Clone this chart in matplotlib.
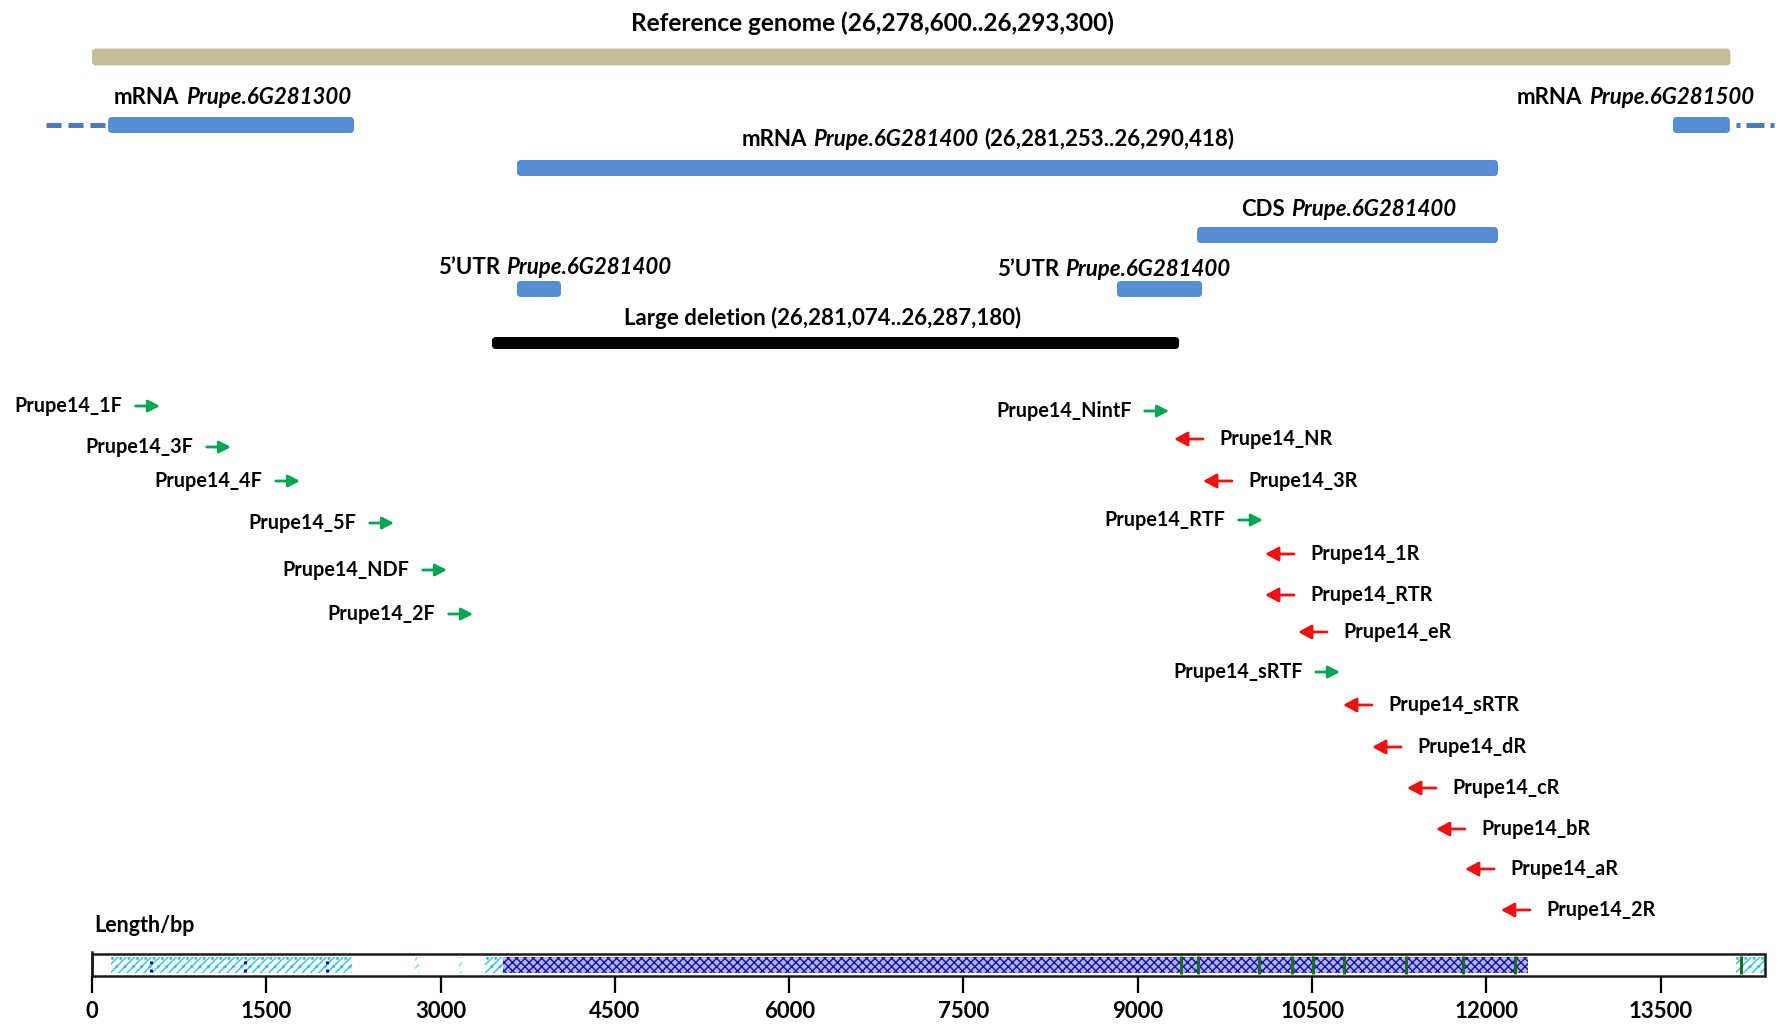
import matplotlib.pyplot as plt
from matplotlib.patches import FancyBboxPatch, Rectangle
from matplotlib.offsetbox import TextArea, HPacker, AnnotationBbox

plt.rcParams['font.family'] = ['Lato', 'DejaVu Sans']
plt.rcParams['hatch.linewidth'] = 1.0

# x is in bp along the Length/bp ruler, y is the row from the top of the figure
x_min, x_max = -792, 14527

# bars: reference genome, mRNAs, CDS, 5'UTRs and the large deletion
bar_start = [0, 138, 13606, 3657, 9510, 3657, 8821, 3442]
bar_end = [14100, 2255, 14096, 12100, 12100, 4036, 9553, 9355]
bar_row = [57, 125, 125, 168, 235, 289, 289, 343]
bar_kind = ['genome', 'mrna', 'mrna', 'mrna', 'mrna', 'mrna', 'mrna', 'deletion']

# neighbouring genes continue outside the window
dash_left = [-396, 138]
dash_right = [14150, 14527]
dash_row = 125

# labels: pieces of (text, italic), anchor x, row, alignment, size
label_parts = [
    [('Reference genome (26,278,600..26,293,300)', False)],
    [('mRNA', False), ('Prupe.6G281300', True)],
    [('mRNA', False), ('Prupe.6G281500', True)],
    [('mRNA', False), ('Prupe.6G281400', True), ('(26,281,253..26,290,418)', False)],
    [('CDS', False), ('Prupe.6G281400', True)],
    [('5\u2019UTR', False), ('Prupe.6G281400', True)],
    [('5\u2019UTR', False), ('Prupe.6G281400', True)],
    [('Large deletion (26,281,074..26,287,180)', False)],
]
label_x = [6713, 189, 14303, 7711, 10818, 3984, 8795, 6291]
label_row = [23, 97, 97, 139, 210, 268, 270, 318]
label_align = [0.5, 0, 1, 0.5, 0.5, 0.5, 0.5, 0.5]
label_size = [17.6, 16, 16, 16, 16, 16, 16, 16]

# primers (arrow head position)
fwd_names = ['Prupe14_1F', 'Prupe14_3F', 'Prupe14_4F', 'Prupe14_5F', 'Prupe14_NDF',
             'Prupe14_2F', 'Prupe14_NintF', 'Prupe14_RTF', 'Prupe14_sRTF']
fwd_pos = [585, 1196, 1790, 2599, 3055, 3279, 9269, 10077, 10740]
fwd_row = [406, 447, 481, 523, 570, 614, 411, 520, 672]

rev_names = ['Prupe14_NR', 'Prupe14_3R', 'Prupe14_1R', 'Prupe14_RTR', 'Prupe14_eR',
             'Prupe14_sRTR', 'Prupe14_dR', 'Prupe14_cR', 'Prupe14_bR', 'Prupe14_aR',
             'Prupe14_2R']
rev_pos = [9312, 9561, 10095, 10095, 10379, 10766, 11016, 11317, 11566, 11816, 12125]
rev_row = [439, 481, 554, 595, 632, 705, 747, 788, 829, 869, 910]

# ruler
ruler_len = 14398
ruler_ticks = [0, 1500, 3000, 4500, 6000, 7500, 9000, 10500, 12000, 13500]
light_start = [164, 3382, 14148]
light_end = [2238, 3537, 14398]
dark_start = [3537]
dark_end = [12358]
faint_pos = [2780, 3158]
dot_pos = [508, 1317, 2022]
green_pos = [9372, 9518, 10043, 10327, 10508, 10775, 11308, 11799, 12246, 14191]


def add_label(ax, parts, x, y, align, size):
    boxes = []
    for txt, italic in parts:
        boxes.append(TextArea(txt, textprops=dict(fontsize=size, fontweight='bold',
                                                  fontstyle='italic' if italic else 'normal')))
    pack = HPacker(children=boxes, align='baseline', pad=0, sep=4.5)
    ab = AnnotationBbox(pack, (x, y), xycoords='data', frameon=False,
                        box_alignment=(align, 0.5), pad=0)
    ax.add_artist(ab)


def main():
    fig = plt.figure(figsize=(17.8, 10.24), dpi=100)
    ax = fig.add_axes([0, 0, 1, 1])
    ax.set_xlim(x_min, x_max)
    ax.set_ylim(1024, 0)
    ax.axis('off')
    bp_per_px = (x_max - x_min) / 1780.0

    colours = {'genome': '#C4BD97', 'mrna': '#558ED5', 'deletion': '#000000'}
    heights = {'genome': 17, 'mrna': 16, 'deletion': 12}

    for s, e, r, k in zip(bar_start, bar_end, bar_row, bar_kind):
        h = heights[k]
        box = FancyBboxPatch((s, r - h / 2), e - s, h,
                             boxstyle='round,pad=0,rounding_size=%f' % (4 * bp_per_px),
                             mutation_aspect=1 / bp_per_px,
                             facecolor=colours[k], edgecolor='none')
        ax.add_patch(box)

    ax.plot(dash_left, [dash_row, dash_row], color='#4A7BB7', lw=3.6,
            dashes=[3, 1.4], solid_capstyle='butt', zorder=0)
    ax.plot(dash_right, [dash_row, dash_row], color='#4A7BB7', lw=3.6,
            dashes=[0.8, 1.2, 3.6, 1.2], zorder=0)

    for parts, x, y, a, fs in zip(label_parts, label_x, label_row, label_align, label_size):
        add_label(ax, parts, x, y, a, fs)

    green = '#00A651'
    red = '#EE1111'
    for name, pos, row in zip(fwd_names, fwd_pos, fwd_row):
        ax.annotate('', xy=(pos, row), xytext=(-17.5, 0), textcoords='offset points',
                    arrowprops=dict(arrowstyle='-|>,head_length=0.7,head_width=0.36',
                                    color=green, lw=2.0, shrinkA=0, shrinkB=0,
                                    mutation_scale=10))
        ax.annotate(name, xy=(pos, row), xytext=(-27, 0), textcoords='offset points',
                    ha='right', va='center', fontsize=14.2, fontweight='bold')

    for name, pos, row in zip(rev_names, rev_pos, rev_row):
        ax.annotate('', xy=(pos, row), xytext=(20.9, 0), textcoords='offset points',
                    arrowprops=dict(arrowstyle='-|>,head_length=0.8,head_width=0.43',
                                    color=red, lw=2.0, shrinkA=0, shrinkB=0,
                                    mutation_scale=10))
        ax.annotate(name, xy=(pos, row), xytext=(33, 0), textcoords='offset points',
                    ha='left', va='center', fontsize=14.2, fontweight='bold')

    ax.text(17, 926, 'Length/bp', ha='left', va='center', fontsize=15.5, fontweight='bold')

    # ruler bar
    rax = fig.add_axes([0, 1 - 976 / 1024.0, 1, 22 / 1024.0])
    rax.set_xlim(x_min, x_max)
    rax.set_ylim(0, 1)
    for sp in rax.spines.values():
        sp.set_visible(False)
    rax.patch.set_alpha(0)
    rax.set_yticks([])
    rax.set_xticks(ruler_ticks)
    rax.set_xticklabels([str(t) for t in ruler_ticks])
    rax.tick_params(axis='x', length=12, width=1.6, pad=6, labelsize=16)
    for lbl in rax.get_xticklabels():
        lbl.set_fontweight('bold')

    for s, e in zip(light_start, light_end):
        rax.add_patch(Rectangle((s, 0.14), e - s, 0.72, facecolor='#f2fbfd',
                                edgecolor='#3CC0D4', hatch='////..', lw=0))
    for x in faint_pos:
        rax.add_patch(Rectangle((x, 0.14), 30, 0.72, facecolor='white',
                                edgecolor='#7fd6e2', hatch='////', lw=0))
    for s, e in zip(dark_start, dark_end):
        rax.add_patch(Rectangle((s, 0.14), e - s, 0.72, facecolor='#b4b4f0',
                                edgecolor='#1212B0', hatch='xxxx', lw=0))
    rax.vlines(dot_pos, 0.2, 0.8, color='#1010C0', lw=2.2, linestyles=':')
    rax.vlines(green_pos, 0.08, 0.92, color='#1B6E1B', lw=2.2)
    rax.add_patch(Rectangle((0, 0), ruler_len, 1, fill=False, edgecolor='#1a1a1a',
                            lw=1.8, clip_on=False))
    rax.plot([0, 0], [0, 1.1], color='#1a1a1a', lw=1.8, clip_on=False)

    fig.savefig('out.png', dpi=100)


if __name__ == '__main__':
    main()
